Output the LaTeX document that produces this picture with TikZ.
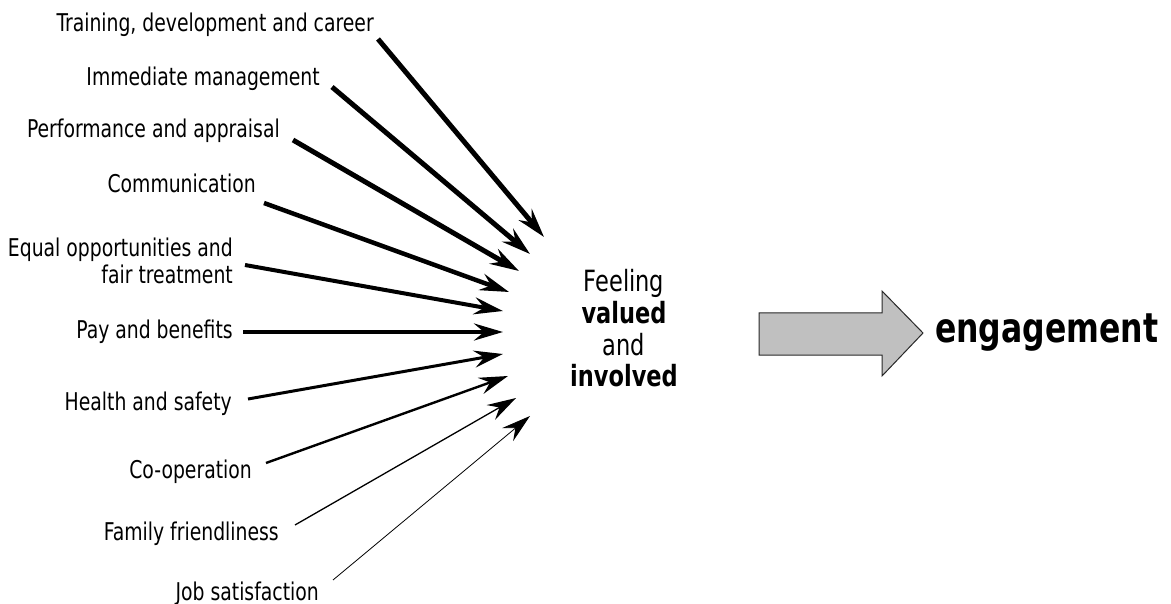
\documentclass[tikz,border=0pt]{standalone}
\usepackage{fontspec}
\setmainfont{DejaVu Sans Condensed}
\usetikzlibrary{arrows.meta}

% labels are set slightly taller than wide
\newcommand\tallbox[1]{\scalebox{1}[1.17]{#1}}

\definecolor{arrowgray}{RGB}{192,192,192}
\definecolor{arrowedge}{RGB}{40,40,40}

\tikzset{
  lbl/.style={inner sep=0pt, anchor=base east, font=\fontsize{20.9}{21.5}\selectfont},
  factor/.style={-{Stealth[length=29pt,width=17pt,inset=10pt]}, line cap=butt},
}

\begin{document}
\begin{tikzpicture}[x=1pt,y=-1pt]
\useasboundingbox (0,0) rectangle (1171,604);

% factor labels
\node[lbl] (t1)  at (374,32)  {\tallbox{Training, development and career}};
\node[lbl] (t2)  at (320,86)  {\tallbox{Immediate management}};
\node[lbl] (t3)  at (280,138) {\tallbox{Performance and appraisal}};
\node[lbl] (t4)  at (256,193) {\tallbox{Communication}};
\node[lbl] (t5)  at (233,257) {\tallbox{\begin{tabular}[t]{@{}r@{}}Equal opportunities and\\fair treatment\end{tabular}}};
\node[lbl] (t6)  at (233,338) {\tallbox{Pay and benefits}};
\node[lbl] (t7)  at (232,410) {\tallbox{Health and safety}};
\node[lbl] (t8)  at (252,478) {\tallbox{Co-operation}};
\node[lbl] (t9)  at (279,540) {\tallbox{Family friendliness}};
\node[lbl] (t10) at (319,600) {\tallbox{Job satisfaction}};

% central statement
\node[inner sep=0pt, anchor=base, font=\fontsize{25}{26.5}\selectfont] (feel) at (624,292)
  {\tallbox{\begin{tabular}[t]{@{}c@{}}Feeling\\\textbf{valued}\\and\\\textbf{involved}\end{tabular}}};

% outcome
\node[inner sep=0pt, anchor=base west, font=\fontsize{35}{40}\selectfont\bfseries] (eng) at (935,342)
  {\tallbox{engagement}};

% start and end points of the factor arrows
\coordinate (s1)  at (378,39);  \coordinate (e1)  at (544,237);
\coordinate (s2)  at (332,87);  \coordinate (e2)  at (530,254);
\coordinate (s3)  at (293,140); \coordinate (e3)  at (519,271);
\coordinate (s4)  at (264,203); \coordinate (e4)  at (509,292);
\coordinate (s5)  at (245,265); \coordinate (e5)  at (503,311);
\coordinate (s6)  at (243,332); \coordinate (e6)  at (503,332);
\coordinate (s7)  at (248,399); \coordinate (e7)  at (503,354);
\coordinate (s8)  at (266,463); \coordinate (e8)  at (508,376);
\coordinate (s9)  at (295,525); \coordinate (e9)  at (516,398);
\coordinate (s10) at (333,580); \coordinate (e10) at (530,416);

% factor arrows, thinning from top to bottom
\draw[factor, line width=5pt]   (s1)  -- (e1);
\draw[factor, line width=5pt]   (s2)  -- (e2);
\draw[factor, line width=5pt]   (s3)  -- (e3);
\draw[factor, line width=4.5pt] (s4)  -- (e4);
\draw[factor, line width=4pt]   (s5)  -- (e5);
\draw[factor, line width=4pt]   (s6)  -- (e6);
\draw[factor, line width=3pt]   (s7)  -- (e7);
\draw[factor, line width=2.4pt] (s8)  -- (e8);
\draw[factor, line width=1.3pt] (s9)  -- (e9);
\draw[factor, line width=0.8pt] (s10) -- (e10);

% block arrow towards engagement
\draw[fill=arrowgray, draw=arrowedge, line width=1pt, line join=miter]
  (759,313) -- (882,313) -- (882,291) -- (923,333) -- (882,376) -- (882,355) -- (759,355) -- cycle;
\end{tikzpicture}
\end{document}
